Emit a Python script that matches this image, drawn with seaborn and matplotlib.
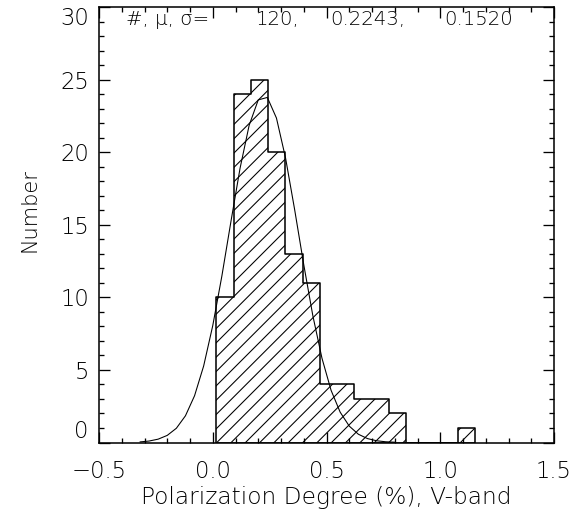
import numpy as np
import pandas as pd
import matplotlib
matplotlib.use("Agg")
import matplotlib.pyplot as plt
from matplotlib.ticker import MultipleLocator
import seaborn as sns

# ---- data ----
bin_edges = [0.016, 0.092, 0.168, 0.243, 0.319, 0.395, 0.471, 0.547,
             0.622, 0.698, 0.774, 0.850, 0.926, 1.001, 1.077, 1.153]
counts = [10, 24, 25, 20, 13, 11, 4, 4, 3, 3, 2, 0, 0, 0, 1]

fit_x = [-0.32, -0.28, -0.24, -0.20, -0.16, -0.12, -0.08, -0.04, 0.00,
         0.04, 0.08, 0.12, 0.16, 0.20, 0.24, 0.28, 0.32, 0.36, 0.40,
         0.44, 0.48, 0.52, 0.56, 0.60, 0.64, 0.68, 0.72, 0.76, 0.80]
fit_y = [0.04, 0.10, 0.23, 0.49, 0.98, 1.84, 3.22, 5.27, 8.05,
         11.46, 15.23, 18.89, 21.85, 23.60, 23.77, 22.35, 19.60, 16.04, 12.25,
         8.73, 5.81, 3.60, 2.09, 1.13, 0.57, 0.27, 0.12, 0.05, 0.02]

x_ticks = [-0.5, 0.0, 0.5, 1.0, 1.5]
x_tick_labels = ["\u22120.5", "0.0", "0.5", "1.0", "1.5"]
y_ticks = [0, 5, 10, 15, 20, 25, 30]
y_tick_labels = ["0", "5", "10", "15", "20", "25", "30"]

stats_label = "#, \u03bc, \u03c3="
stats_values = ["120,", "0.2243,", "0.1520"]

x_label = "Polarization Degree (%), V-band"
y_label = "Number"

# ---- style ----
DPI = 86
sns.set_theme(style="ticks")
plt.rcParams["font.family"] = ["DejaVu Sans"]
plt.rcParams["font.weight"] = "light"
plt.rcParams["axes.labelweight"] = "light"
plt.rcParams["hatch.linewidth"] = 0.9

fig = plt.figure(figsize=(573 / DPI, 519 / DPI), dpi=DPI)
fig.patch.set_facecolor("white")
ax = fig.add_axes([99 / 573, 1 - 442.5 / 519, 455 / 573, 435.5 / 519])
ax.set_facecolor("white")

edges = np.asarray(bin_edges)
centers = (edges[:-1] + edges[1:]) / 2
df = pd.DataFrame({"value": centers, "count": counts})

sns.histplot(data=df, x="value", weights="count", bins=bin_edges,
             element="step", fill=True, color="black", facecolor="none",
             edgecolor="black", hatch="//", linewidth=1.3, ax=ax)

fit_df = pd.DataFrame({"x": fit_x, "y": fit_y})
sns.lineplot(data=fit_df, x="x", y="y", color="black", linewidth=0.9,
             sort=False, ax=ax)

ax.set_xlim(-0.5, 1.5)
ax.set_ylim(0, 30)
ax.set_xticks(x_ticks, x_tick_labels)
ax.set_yticks(y_ticks, y_tick_labels)
ax.xaxis.set_minor_locator(MultipleLocator(0.1))
ax.yaxis.set_minor_locator(MultipleLocator(1))

for s in ax.spines.values():
    s.set_visible(True)
    s.set_linewidth(1.3)
    s.set_color("black")

ax.tick_params(which="both", direction="in", top=True, right=True,
               color="black", width=1.1)
ax.tick_params(which="major", length=9.2)
ax.tick_params(which="minor", length=4.6)
ax.tick_params(axis="x", which="major", pad=15, labelsize=19, labelcolor="black")
ax.tick_params(axis="y", which="major", pad=8.5, labelsize=19, labelcolor="black")

ylabs = ax.get_yticklabels()
ylabs[0].set_va("bottom")
ylabs[-1].set_va("top")

ax.set_xlabel(x_label, fontsize=19.5, fontweight="light", color="black")
ax.set_ylabel(y_label, fontsize=17.5, fontweight="light", color="black")
ax.xaxis.set_label_coords(0.5, -0.099)
ax.yaxis.set_label_coords(-0.13, 0.534)

ax.text(-0.381, 29.14, stats_label, fontsize=16.5, ha="left", va="center", color="black")
ax.text(0.190, 29.14, stats_values[0], fontsize=16.5, ha="left", va="center", color="black")
ax.text(0.515, 29.14, stats_values[1], fontsize=16.5, ha="left", va="center", color="black")
ax.text(1.016, 29.14, stats_values[2], fontsize=16.5, ha="left", va="center", color="black")

fig.savefig("out.png", dpi=DPI, facecolor="white")
